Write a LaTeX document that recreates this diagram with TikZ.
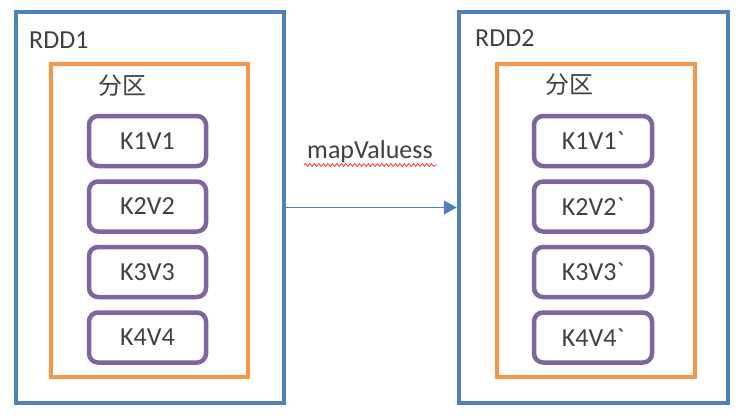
\documentclass[tikz,border=0pt]{standalone}
\usepackage{fontspec}
\setmainfont{Carlito}[Ligatures=TeXOff]
\newfontfamily\cjk{Noto Sans CJK SC}
\usetikzlibrary{arrows.meta,decorations.pathmorphing}
\definecolor{rddblue}{HTML}{4F81BD}
\definecolor{partorange}{HTML}{F79646}
\definecolor{kvpurple}{HTML}{8064A2}
\definecolor{txt}{HTML}{404040}
\tikzset{
  rddbox/.style={draw=rddblue, line width=4.5pt, minimum width=268pt, minimum height=391pt, inner sep=0pt},
  partbox/.style={draw=partorange, line width=4pt, minimum width=197pt, minimum height=313pt, inner sep=0pt},
  kvbox/.style={draw=kvpurple, line width=4.5pt, rounded corners=9pt, minimum width=117pt, minimum height=50pt, inner sep=0pt, font=\fontsize{26}{30}\selectfont, text=txt},
  lbl/.style={font=\fontsize{26}{30}\selectfont, text=txt, inner sep=0pt},
  cjklbl/.style={font=\cjk\fontsize{24}{28}\selectfont, text=txt, inner sep=0pt},
}
\begin{document}
\begin{tikzpicture}[x=1pt,y=-1pt]
\useasboundingbox (0,0) rectangle (743,417);
% RDD1
\node[rddbox] (r1) at (150,207.5) {};
\node[partbox] (p1) at (149.5,220.5) {};
\node[lbl, anchor=west] (t1) at (29,40) {RDD1};
\node[cjklbl] (c1) at (122,86) {分区};
\node[kvbox] (a1) at (147.5,141) {K1V1};
\node[kvbox] (a2) at (147.5,206.5) {K2V2};
\node[kvbox] (a3) at (147.5,272) {K3V3};
\node[kvbox] (a4) at (147.5,337.5) {K4V4};
% RDD2
\node[rddbox, minimum width=269pt] (r2) at (593.5,207.5) {};
\node[partbox, minimum width=198pt] (p2) at (596,220.5) {};
\node[lbl, anchor=west] (t2) at (475,38) {RDD2};
\node[cjklbl] (c2) at (569,85) {分区};
\node[kvbox, minimum width=118pt] (b1) at (593,141) {K1V1`};
\node[kvbox, minimum width=118pt] (b2) at (593,206.5) {K2V2`};
\node[kvbox, minimum width=118pt] (b3) at (593,272) {K3V3`};
\node[kvbox, minimum width=118pt] (b4) at (593,337.5) {K4V4`};
% arrow
\draw[rddblue, line width=1.5pt, -{Triangle[length=13pt,width=14pt]}] (r1.east) -- (r2.west);
\node[lbl] (m) at (370,152) {mapValuess};
\coordinate (sq1) at (304,165);
\coordinate (sq2) at (437,165);
\draw[red!80!white, line width=0.8pt, decorate, decoration={snake, amplitude=1.4pt, segment length=4.5pt}] (sq1) -- (sq2);
\end{tikzpicture}
\end{document}
